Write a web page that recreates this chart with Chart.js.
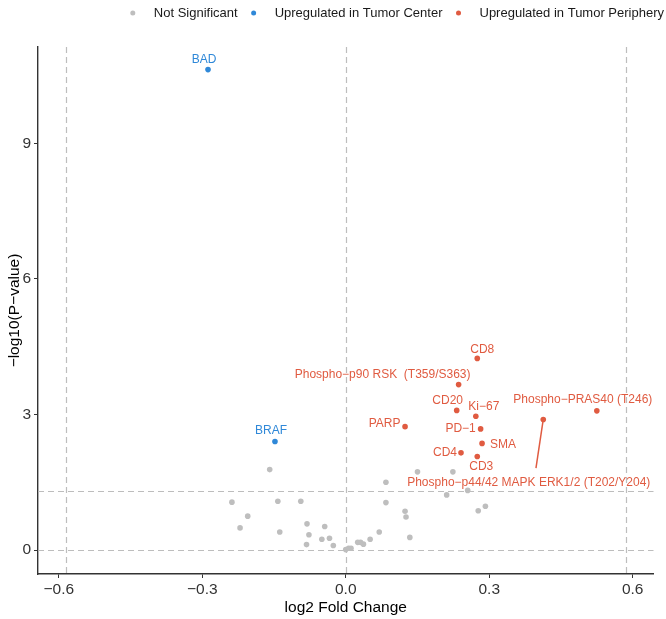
<!DOCTYPE html>
<html>
<head>
<meta charset="utf-8">
<script src="https://cdn.jsdelivr.net/npm/chart.js@4.4.1/dist/chart.umd.min.js"></script>
<style>
html,body{margin:0;padding:0;background:#ffffff;}
#wrap{width:666px;height:619px;position:relative;}
</style>
</head>
<body>
<div id="wrap"><canvas id="c" width="666" height="619"></canvas></div>
<script>
// ---------- DATA ----------
const seriesNames = ["Not Significant", "Upregulated in Tumor Center", "Upregulated in Tumor Periphery"];

// Not significant proteins (log2 FC, -log10 p)
const greyX = [-0.159, -0.238, -0.142, -0.094, -0.205, -0.221, -0.138, -0.081, -0.044, -0.077,
               -0.050, -0.034, -0.082, -0.026, 0.000, 0.006, 0.011, 0.025, 0.031, 0.037,
               0.051, 0.070, 0.084, 0.084, 0.124, 0.126, 0.134, 0.150, 0.211, 0.224,
               0.255, 0.277, 0.292];
const greyY = [1.78, 1.06, 1.08, 1.08, 0.75, 0.49, 0.40, 0.58, 0.52, 0.34,
               0.24, 0.26, 0.12, 0.10, 0.01, 0.04, 0.04, 0.17, 0.17, 0.13,
               0.24, 0.40, 1.05, 1.50, 0.86, 0.73, 0.28, 1.73, 1.22, 1.73,
               1.32, 0.87, 0.97];

// Upregulated in tumor center
const centerNames = ["BAD", "BRAF"];
const centerX = [-0.288, -0.148];
const centerY = [10.63, 2.40];

// Upregulated in tumor periphery
const periphNames = ["CD8", "Phospho\u2212p90 RSK  (T359/S363)", "CD20", "Ki\u221267",
                     "Phospho\u2212PRAS40 (T246)", "Phospho\u2212p44/42 MAPK ERK1/2 (T202/Y204)",
                     "PARP", "PD\u22121", "SMA", "CD4", "CD3"];
const periphX = [0.275, 0.236, 0.232, 0.272, 0.525, 0.413, 0.124, 0.282, 0.285, 0.241, 0.275];
const periphY = [4.24, 3.66, 3.09, 2.96, 3.08, 2.89, 2.73, 2.68, 2.36, 2.15, 2.07];

// Axis ticks and threshold lines
const xTicks = [-0.6, -0.3, 0.0, 0.3, 0.6];
const yTicks = [0, 3, 6, 9];
const vLines = [-0.585, 0, 0.585];
const hLines = [0, 1.301];

// ---------- STYLE ----------
const seriesColors = ["#BEBEBE", "#2F88D8", "#E05B41"];
const FONT = "'Liberation Sans', Arial, Helvetica, sans-serif";

// label placement (pixel offsets of label centre from its point, repel-style)
const labelOffsets = {
  "BAD": [-4, -10],
  "BRAF": [-4, -11],
  "CD8": [5, -8.5],
  "Phospho\u2212p90 RSK  (T359/S363)": [-76, -10],
  "CD20": [-9, -10],
  "Ki\u221267": [8, -10],
  "Phospho\u2212PRAS40 (T246)": [-14, -11],
  "Phospho\u2212p44/42 MAPK ERK1/2 (T202/Y204)": [-14.5, 63],
  "PARP": [-20.5, -2.5],
  "PD\u22121": [-20, 0],
  "SMA": [21, 1.5],
  "CD4": [-16, 0],
  "CD3": [4, 10.5]
};
const connectors = { "Phospho\u2212p44/42 MAPK ERK1/2 (T202/Y204)": [-7.3, 48.7] };

function pts(xs, ys) { return xs.map((x, i) => ({ x: x, y: ys[i] })); }
function fmt(v) { return (v < 0 ? "\u2212" : "") + Math.abs(v).toFixed(1); }

const refLines = {
  id: 'refLines',
  beforeDatasetsDraw(chart) {
    const { ctx, chartArea: a, scales: { x, y } } = chart;
    ctx.save();
    ctx.strokeStyle = '#BDBDBD';
    ctx.lineWidth = 1.2;
    ctx.setLineDash([6, 4]);
    vLines.forEach(v => {
      const px = Math.round(x.getPixelForValue(v)) + 0.5;
      ctx.beginPath(); ctx.moveTo(px, a.top); ctx.lineTo(px, a.bottom); ctx.stroke();
    });
    hLines.forEach(v => {
      const py = Math.round(y.getPixelForValue(v)) + 0.5;
      ctx.beginPath(); ctx.moveTo(a.left, py); ctx.lineTo(a.right, py); ctx.stroke();
    });
    ctx.restore();
  }
};

const pointLabels = {
  id: 'pointLabels',
  afterDatasetsDraw(chart) {
    const ctx = chart.ctx;
    ctx.save();
    ctx.font = "12px " + FONT;
    ctx.textAlign = 'center';
    ctx.textBaseline = 'middle';
    chart.data.datasets.forEach((ds, di) => {
      if (!ds.names) return;
      const meta = chart.getDatasetMeta(di);
      meta.data.forEach((el, i) => {
        const name = ds.names[i];
        const off = labelOffsets[name] || [0, -10];
        ctx.fillStyle = ds.backgroundColor;
        ctx.fillText(name, el.x + off[0], el.y + off[1]);
        if (connectors[name]) {
          const c = connectors[name];
          ctx.strokeStyle = ds.backgroundColor;
          ctx.lineWidth = 1.5;
          ctx.beginPath(); ctx.moveTo(el.x, el.y); ctx.lineTo(el.x + c[0], el.y + c[1]); ctx.stroke();
        }
      });
    });
    ctx.restore();
  }
};

const topLegend = {
  id: 'topLegend',
  afterDraw(chart) {
    const ctx = chart.ctx;
    ctx.save();
    ctx.font = "13px " + FONT;
    ctx.textBaseline = 'middle';
    ctx.textAlign = 'left';
    const cy = 13;
    let xr = 664;
    for (let i = seriesNames.length - 1; i >= 0; i--) {
      const w = ctx.measureText(seriesNames[i]).width;
      const tx = xr - w;
      ctx.fillStyle = '#1A1A1A';
      ctx.fillText(seriesNames[i], tx, cy);
      const dx = tx - 21;
      ctx.fillStyle = seriesColors[i];
      ctx.beginPath(); ctx.arc(dx, cy, 2.5, 0, Math.PI * 2); ctx.fill();
      xr = dx - 16;
    }
    ctx.restore();
  }
};

new Chart(document.getElementById('c'), {
  type: 'scatter',
  data: {
    datasets: [
      { label: seriesNames[0], data: pts(greyX, greyY), backgroundColor: seriesColors[0],
        borderWidth: 0, pointRadius: 2.8, order: 3 },
      { label: seriesNames[1], names: centerNames, data: pts(centerX, centerY), backgroundColor: seriesColors[1],
        borderWidth: 0, pointRadius: 2.8, order: 2 },
      { label: seriesNames[2], names: periphNames, data: pts(periphX, periphY), backgroundColor: seriesColors[2],
        borderWidth: 0, pointRadius: 2.8, order: 1 }
    ]
  },
  options: {
    responsive: false,
    devicePixelRatio: 1,
    animation: false,
    events: [],
    layout: { padding: { top: 47, right: 12.5, left: 0, bottom: 0 } },
    plugins: { legend: { display: false }, tooltip: { enabled: false } },
    scales: {
      x: {
        type: 'linear', min: -0.6435, max: 0.6435,
        afterBuildTicks: s => { s.ticks = xTicks.map(v => ({ value: v })); },
        afterFit: s => { s.height = 45; },
        ticks: { callback: v => fmt(v), font: { size: 15.5, family: FONT }, color: '#333333', padding: 2, maxRotation: 0 },
        grid: { display: true, drawOnChartArea: false, drawTicks: true, tickLength: 4, color: '#333333', lineWidth: 1 },
        border: { display: true, color: '#333333', width: 1.4 },
        title: { display: true, text: 'log2 Fold Change', font: { size: 15.5, family: FONT }, color: '#000000', padding: { top: 0, bottom: 2 } }
      },
      y: {
        type: 'linear', min: -0.53, max: 11.13,
        afterBuildTicks: s => { s.ticks = yTicks.map(v => ({ value: v })); },
        afterFit: s => { s.width = 38; },
        ticks: { callback: v => String(v), font: { size: 15.5, family: FONT }, color: '#333333', padding: 3 },
        grid: { display: true, drawOnChartArea: false, drawTicks: true, tickLength: 4, color: '#333333', lineWidth: 1 },
        border: { display: true, color: '#333333', width: 1.4 },
        title: { display: true, text: '\u2212log10(P\u2212value)', font: { size: 15.5, family: FONT }, color: '#000000', padding: { top: 5, bottom: 0 } }
      }
    }
  },
  plugins: [refLines, pointLabels, topLegend]
});
</script>
</body>
</html>
